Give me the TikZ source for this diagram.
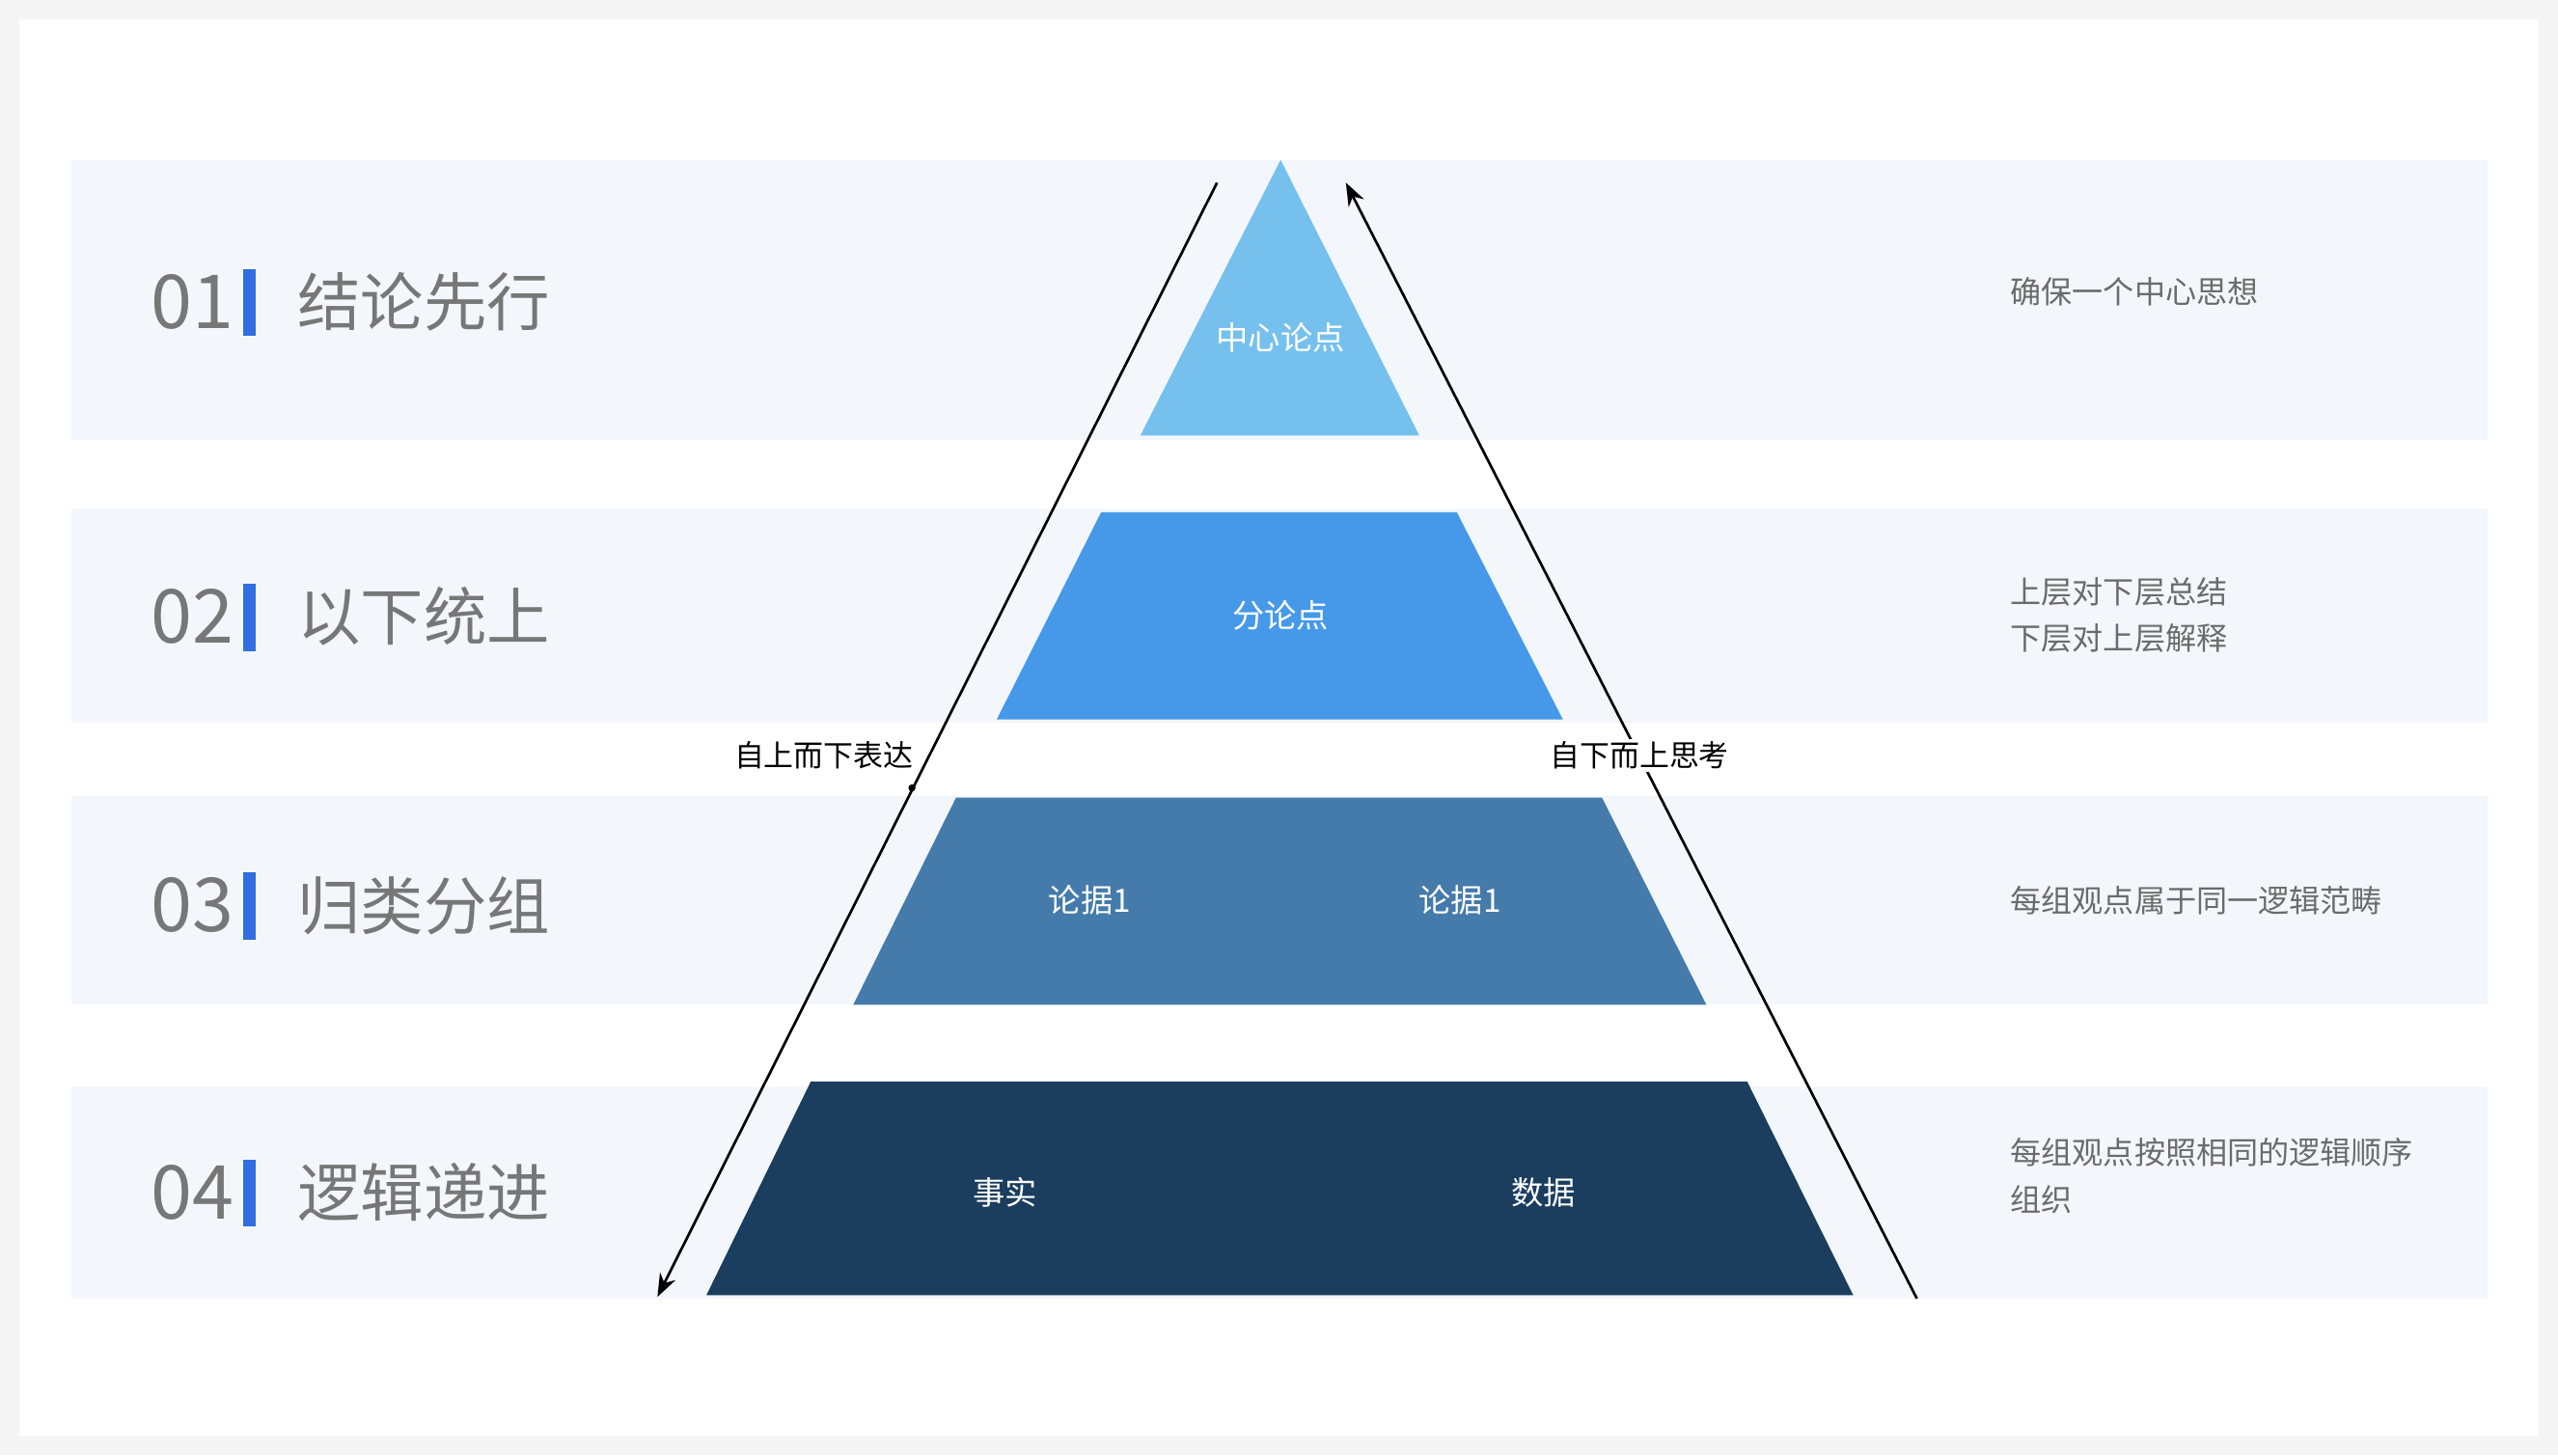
\documentclass[tikz,border=0pt]{standalone}
\usepackage{fontspec}
\setmainfont{Noto Sans CJK SC}
\usetikzlibrary{arrows.meta}
\definecolor{band}{HTML}{F3F7FC}
\definecolor{c1}{HTML}{76C0EE}
\definecolor{c2}{HTML}{4699E8}
\definecolor{c3}{HTML}{447BAB}
\definecolor{c4}{HTML}{1B3D5E}
\definecolor{gt}{HTML}{777777}
\definecolor{bar}{HTML}{2F6FE0}
\tikzset{
 num/.style={text=gt,font=\fontsize{13pt}{14pt}\selectfont,anchor=west},
 ttl/.style={text=gt,font=\fontsize{11pt}{12pt}\selectfont,anchor=west},
 desc/.style={text=gt!90!black,font=\fontsize{5.4pt}{8.2pt}\selectfont,anchor=west,align=left},
 pl/.style={text=white,font=\fontsize{5.6pt}{7pt}\selectfont},
 side/.style={text=black,font=\fontsize{5.2pt}{7pt}\selectfont,fill=white,inner sep=0.5pt},
 arr/.style={line width=0.45pt,-{Stealth[length=4pt,width=3pt]}}
}
\begin{document}
\begin{tikzpicture}[x=0.01cm,y=-0.01cm]
\useasboundingbox (0,0) rectangle (1568,892);
\fill[gray!8] (0,0) rectangle (1568,892);
\fill[white] (12,12) rectangle (1556,880);
\foreach \a/\b in {98/270,312/443,488/616,666/796}{\fill[band] (44,\a) rectangle (1525,\b);}
\fill[c1] (785,98) -- (870,267) -- (699,267) -- cycle;
\fill[c2] (675,314) -- (893,314) -- (958,441) -- (611,441) -- cycle;
\fill[c3] (586,489) -- (982,489) -- (1046,616) -- (523,616) -- cycle;
\fill[c4] (497,663) -- (1071,663) -- (1136,794) -- (433,794) -- cycle;
\node[pl] (p1) at (785,207) {中心论点};
\node[pl] (p2) at (785,377) {分论点};
\node[pl] (p3a) at (668,552) {论据1};
\node[pl] (p3b) at (895,552) {论据1};
\node[pl] (p4a) at (616,731) {事实};
\node[pl] (p4b) at (946,731) {数据};
\coordinate (ls) at (746,112); \coordinate (le) at (403,795);
\coordinate (rs) at (1175,796); \coordinate (re) at (825,112);
\draw[arr] (ls) -- (le);
\draw[arr] (rs) -- (re);
\fill (559,483) circle (2.2);
\node[side] (lt) at (505,463) {自上而下表达};
\node[side] (rt) at (1005,463) {自下而上思考};
\foreach \y/\n/\t in {185/01/结论先行,378/02/以下统上,555/03/归类分组,731/04/逻辑递进}{
 \node[num] (n\n) at (80,\y) {\n};
 \fill[bar] (149,\y-20) rectangle (157,\y+21);
 \node[ttl] (t\n) at (170,\y) {\t};
}
\node[desc] (d1) at (1220,179) {确保一个中心思想};
\node[desc] (d2) at (1220,377) {上层对下层总结\\下层对上层解释};
\node[desc] (d3) at (1220,552) {每组观点属于同一逻辑范畴};
\node[desc] (d4) at (1220,721) {每组观点按照相同的逻辑顺序\\组织};
\end{tikzpicture}
\end{document}
